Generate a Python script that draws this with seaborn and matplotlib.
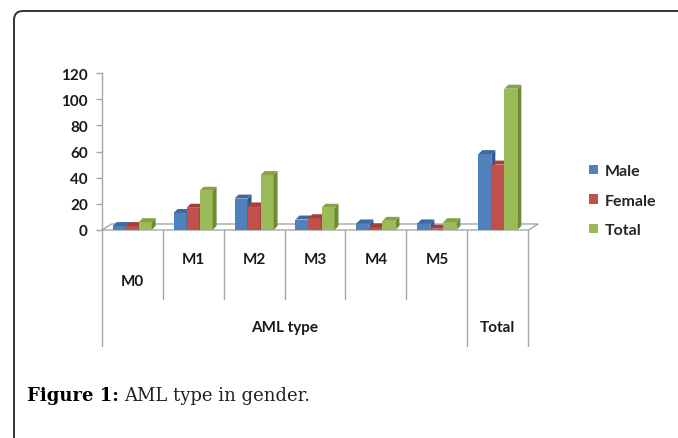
import matplotlib
matplotlib.use("Agg")
import matplotlib.pyplot as plt
import matplotlib.transforms as mtransforms
from matplotlib.patches import Polygon, FancyBboxPatch, Patch
import seaborn as sns
import pandas as pd
import numpy as np

# ---- data ----
categories = ["M0", "M1", "M2", "M3", "M4", "M5", "Total"]
groups = ["AML type"] * 6 + ["Total"]
male = [3, 13, 24, 8, 5, 5, 58]
female = [3, 17, 18, 9, 2, 1, 50]
total = [6, 30, 42, 17, 7, 6, 108]
series_names = ["Male", "Female", "Total"]
yticks = [0, 20, 40, 60, 80, 100, 120]

colors = {"Male": "#4F81BD", "Female": "#C0504D", "Total": "#9BBB59"}
side_colors = {"Male": "#2F5B8F", "Female": "#8E3330", "Total": "#6E8A35"}
top_colors = {"Male": "#3A6AA3", "Female": "#A2403C", "Total": "#86A447"}

df = pd.DataFrame({
    "cat": categories * 3,
    "series": ["Male"] * 7 + ["Female"] * 7 + ["Total"] * 7,
    "value": male + female + total,
})

W, H = 678, 439
sns.set_theme(style="white")
plt.rcParams["font.family"] = ["Lato", "DejaVu Sans"]
fig = plt.figure(figsize=(W / 100, H / 100), dpi=100)

# pixel transform (top-left origin)
px = mtransforms.Affine2D().scale(1 / W, -1 / H).translate(0, 1) + fig.transFigure

ax_l, ax_r, ax_t, ax_b = 101.7, 528.3, 74.0, 231.0
ax = fig.add_axes([ax_l / W, (H - ax_b) / H, (ax_r - ax_l) / W, (ax_b - ax_t) / H])

sns.barplot(data=df, x="cat", y="value", hue="series", order=categories,
            hue_order=series_names, palette=colors, width=0.64, ax=ax,
            saturation=1, edgecolor="none", linewidth=0, legend=False)
ax.set_xlim(-0.5, 6.5)
ax.set_ylim(0, 120)

# 3D depth offsets
px_per_cat = (ax_r - ax_l) / 7
px_per_unit = (ax_b - ax_t) / 120
dx = 4.0 / px_per_cat
dy = 4.0 / px_per_unit

grey = "#A6A6A6"
bars = list(ax.patches)

# floor
fdx = 10.0 / px_per_cat
fdy = 6.0 / px_per_unit
floor = Polygon([(-0.5, 0), (6.5, 0), (6.5 + fdx, fdy), (-0.5 + fdx, fdy)],
                closed=True, facecolor="white", edgecolor=grey, lw=1.0,
                zorder=0.5, clip_on=False)
ax.add_patch(floor)

for i, p in enumerate(bars[:21]):
    s = series_names[i // 7]
    x0 = p.get_x(); w = p.get_width(); h = p.get_height()
    z = 2 + (x0 + w / 2) * 0.1
    p.set_zorder(z)
    p.set_clip_on(False)
    side = Polygon([(x0 + w, 0), (x0 + w + dx, dy), (x0 + w + dx, h + dy), (x0 + w, h)],
                   closed=True, facecolor=side_colors[s], edgecolor="none",
                   zorder=z + 0.01, clip_on=False)
    top = Polygon([(x0, h), (x0 + dx, h + dy), (x0 + w + dx, h + dy), (x0 + w, h)],
                  closed=True, facecolor=top_colors[s], edgecolor="none",
                  zorder=z + 0.01, clip_on=False)
    ax.add_patch(side)
    ax.add_patch(top)

# axes styling
for sp in ["top", "right", "bottom"]:
    ax.spines[sp].set_visible(False)
ax.spines["left"].set_color(grey)
ax.spines["left"].set_linewidth(1.0)
ax.set_yticks(yticks)
ax.set_yticklabels([str(v) for v in yticks], fontsize=11, fontweight="bold", color="#1a1a1a")
ax.tick_params(axis="y", length=4, width=1, color=grey, pad=6, left=True)
ax.set_xticks([])
ax.set_xlabel("")
ax.set_ylabel("")

# hierarchical category axis
bt = mtransforms.blended_transform_factory(ax.transData, px)
for b in [0.5, 1.5, 2.5, 3.5, 4.5]:
    ax.plot([b, b], [231, 300], color=grey, lw=1.0, transform=bt, clip_on=False)
for b in [-0.5, 5.5, 6.5]:
    ax.plot([b, b], [231, 347], color=grey, lw=1.0, transform=bt, clip_on=False)
lab_kw = dict(transform=bt, ha="center", va="center", fontsize=11,
              fontweight="bold", color="#1a1a1a")
for i, c in enumerate(categories[:6]):
    ax.text(i, 282 if i == 0 else 260, c, **lab_kw)
ax.text(2.5, 328, "AML type", **lab_kw)
ax.text(6, 328, "Total", **lab_kw)

# legend
handles = [Patch(facecolor=colors[s], edgecolor="none") for s in series_names]
leg = ax.legend(handles, series_names, loc="upper left",
                bbox_to_anchor=(581 / W, 1 - 157 / H), bbox_transform=fig.transFigure,
                frameon=False, handlelength=0.55, handleheight=0.55, handletextpad=0.45,
                labelspacing=0.98, borderpad=0,
                prop={"family": ["Lato", "DejaVu Sans"], "weight": "bold", "size": 11.5})

# frame border
border = FancyBboxPatch((14, 12), 700, 460, boxstyle="round,pad=0,rounding_size=9",
                        transform=px, facecolor="none", edgecolor="#333333", lw=1.4,
                        clip_on=False)
fig.patches.append(border)

# caption
t1 = fig.text(27 / W, 1 - 401 / H, "Figure 1:", fontsize=13, fontweight="bold",
              family=["DejaVu Serif"], color="black", va="baseline", ha="left")
fig.canvas.draw()
bb = t1.get_window_extent(renderer=fig.canvas.get_renderer())
fig.text((bb.x1 + 5) / W, 1 - 401 / H, "AML type in gender.", fontsize=13,
         family=["DejaVu Serif"], color="#222222", va="baseline", ha="left")

fig.savefig("out.png", dpi=100)
